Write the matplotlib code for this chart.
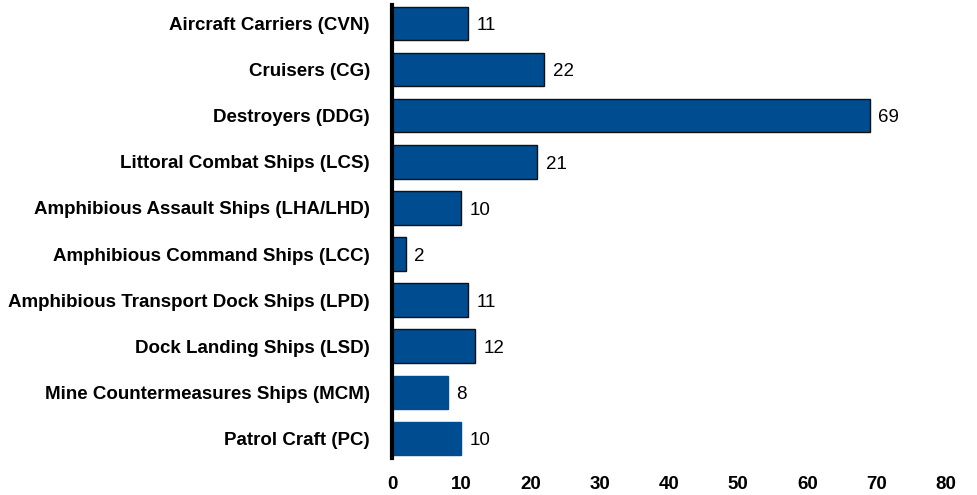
import matplotlib.pyplot as plt

plt.rcParams['font.family'] = ['Liberation Sans', 'DejaVu Sans']

# ship categories and counts
categories = [
    "Aircraft Carriers (CVN)",
    "Cruisers (CG)",
    "Destroyers (DDG)",
    "Littoral Combat Ships (LCS)",
    "Amphibious Assault Ships (LHA/LHD)",
    "Amphibious Command Ships (LCC)",
    "Amphibious Transport Dock Ships (LPD)",
    "Dock Landing Ships (LSD)",
    "Mine Countermeasures Ships (MCM)",
    "Patrol Craft (PC)",
]
counts = [11, 22, 69, 21, 10, 2, 11, 12, 8, 10]
x_ticks = [0, 10, 20, 30, 40, 50, 60, 70, 80]

fig = plt.figure(figsize=(9.78, 4.95), dpi=100)
ax = fig.add_axes([0.401, 0.075, 0.566, 0.915])

pos = list(range(len(categories)))
bars = ax.barh(pos, counts, height=0.73, color='#004C91',
               edgecolor='#111111', linewidth=1.0)
# last two bars drawn without outline in the original
for b in bars[-2:]:
    b.set_edgecolor('#004C91')

for p, v in zip(pos, counts):
    ax.text(v + 1.2, p + 0.05, str(v), va='center', ha='left', fontsize=13.5)

ax.set_yticks(pos)
ax.set_yticklabels(categories, fontsize=13.5, fontweight='bold')
ax.set_ylim(9.42, -0.4)
ax.set_xlim(0, 80)
ax.set_xticks(x_ticks)
ax.set_xticklabels([str(t) for t in x_ticks], fontsize=13.5, fontweight='bold')
ax.tick_params(axis='both', length=0)
ax.tick_params(axis='x', pad=13)
ax.tick_params(axis='y', pad=16)

for s in ['top', 'right', 'bottom']:
    ax.spines[s].set_visible(False)
ax.spines['left'].set_linewidth(3)
ax.spines['left'].set_color('black')

fig.savefig('out.png', dpi=100)
